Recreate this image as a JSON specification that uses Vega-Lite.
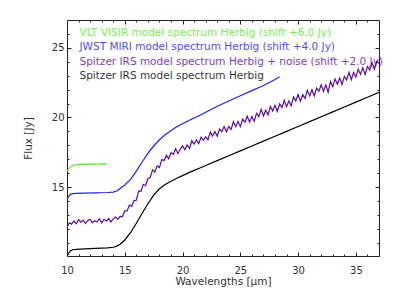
{
  "$schema": "https://vega.github.io/schema/vega-lite/v6.json",
  "autosize": {"type": "none"},
  "padding": {"left": 67, "top": 20, "right": 20, "bottom": 43},
  "width": 312,
  "height": 236,
  "config": {
    "view": {"stroke": "#222", "strokeWidth": 1},
    "axis": {"grid": false, "labelFont": "DejaVu Sans", "labelFontSize": 10, "labelColor": "#333", "titleFont": "DejaVu Sans", "titleFontSize": 10.5, "titleFontWeight": "normal", "titleColor": "#333", "tickColor": "#222", "tickWidth": 1, "labelFlush": false}
  },
  "datasets": {
    "spec": [
      {"s":"k","x":10.0,"y":10.05},{"s":"k","x":10.15,"y":10.25},{"s":"k","x":10.3,"y":10.43},{"s":"k","x":10.5,"y":10.5},{"s":"k","x":10.8,"y":10.53},{"s":"k","x":11.5,"y":10.56},{"s":"k","x":12.5,"y":10.6},{"s":"k","x":13.5,"y":10.64},{"s":"k","x":14.0,"y":10.68},{"s":"k","x":14.3,"y":10.76},{"s":"k","x":14.6,"y":10.9},{"s":"k","x":15.0,"y":11.2},{"s":"k","x":15.5,"y":11.72},{"s":"k","x":16.0,"y":12.4},{"s":"k","x":16.5,"y":13.12},{"s":"k","x":17.0,"y":13.8},{"s":"k","x":17.5,"y":14.42},{"s":"k","x":18.0,"y":14.88},{"s":"k","x":18.5,"y":15.18},{"s":"k","x":19.0,"y":15.42},{"s":"k","x":19.5,"y":15.63},{"s":"k","x":20.0,"y":15.82},{"s":"k","x":20.5,"y":16.02},{"s":"k","x":21.0,"y":16.2},{"s":"k","x":21.5,"y":16.37},{"s":"k","x":22.0,"y":16.55},{"s":"k","x":23.0,"y":16.9},{"s":"k","x":24.0,"y":17.25},{"s":"k","x":25.0,"y":17.6},{"s":"k","x":26.0,"y":17.95},{"s":"k","x":27.0,"y":18.3},{"s":"k","x":28.0,"y":18.65},{"s":"k","x":29.0,"y":19.0},{"s":"k","x":30.0,"y":19.35},{"s":"k","x":31.0,"y":19.7},{"s":"k","x":32.0,"y":20.05},{"s":"k","x":33.0,"y":20.4},{"s":"k","x":34.0,"y":20.75},{"s":"k","x":35.0,"y":21.1},{"s":"k","x":36.0,"y":21.45},{"s":"k","x":37.0,"y":21.8},
      {"s":"b","x":10.0,"y":14.12},{"s":"b","x":10.15,"y":14.33},{"s":"b","x":10.3,"y":14.48},{"s":"b","x":10.5,"y":14.53},{"s":"b","x":10.8,"y":14.55},{"s":"b","x":11.5,"y":14.57},{"s":"b","x":12.5,"y":14.59},{"s":"b","x":13.5,"y":14.61},{"s":"b","x":14.0,"y":14.64},{"s":"b","x":14.3,"y":14.72},{"s":"b","x":14.6,"y":14.9},{"s":"b","x":15.0,"y":15.15},{"s":"b","x":15.5,"y":15.55},{"s":"b","x":16.0,"y":16.15},{"s":"b","x":16.5,"y":16.8},{"s":"b","x":17.0,"y":17.42},{"s":"b","x":17.5,"y":17.95},{"s":"b","x":18.0,"y":18.4},{"s":"b","x":18.5,"y":18.76},{"s":"b","x":19.0,"y":19.06},{"s":"b","x":19.5,"y":19.33},{"s":"b","x":20.0,"y":19.55},{"s":"b","x":20.5,"y":19.76},{"s":"b","x":21.0,"y":19.96},{"s":"b","x":21.5,"y":20.16},{"s":"b","x":22.0,"y":20.38},{"s":"b","x":23.0,"y":20.8},{"s":"b","x":24.0,"y":21.18},{"s":"b","x":25.0,"y":21.56},{"s":"b","x":26.0,"y":21.93},{"s":"b","x":27.0,"y":22.3},{"s":"b","x":28.0,"y":22.73},{"s":"b","x":28.4,"y":22.92},
      {"s":"g","x":10.0,"y":16.12},{"s":"g","x":10.2,"y":16.36},{"s":"g","x":10.4,"y":16.52},{"s":"g","x":10.6,"y":16.58},{"s":"g","x":10.8,"y":16.62},{"s":"g","x":11.0,"y":16.6},{"s":"g","x":11.2,"y":16.65},{"s":"g","x":11.4,"y":16.61},{"s":"g","x":11.6,"y":16.66},{"s":"g","x":11.8,"y":16.62},{"s":"g","x":12.0,"y":16.67},{"s":"g","x":12.2,"y":16.63},{"s":"g","x":12.4,"y":16.68},{"s":"g","x":12.6,"y":16.64},{"s":"g","x":12.8,"y":16.69},{"s":"g","x":13.0,"y":16.65},{"s":"g","x":13.2,"y":16.68},{"s":"g","x":13.4,"y":16.66},
      {"s":"p","x":10.0,"y":12.12},{"s":"p","x":10.2,"y":12.44},{"s":"p","x":10.4,"y":12.34},{"s":"p","x":10.6,"y":12.57},{"s":"p","x":10.8,"y":12.37},{"s":"p","x":11.0,"y":12.67},{"s":"p","x":11.2,"y":12.48},{"s":"p","x":11.4,"y":12.63},{"s":"p","x":11.6,"y":12.38},{"s":"p","x":11.8,"y":12.61},{"s":"p","x":12.0,"y":12.69},{"s":"p","x":12.2,"y":12.44},{"s":"p","x":12.4,"y":12.59},{"s":"p","x":12.6,"y":12.49},{"s":"p","x":12.8,"y":12.74},{"s":"p","x":13.0,"y":12.44},{"s":"p","x":13.2,"y":12.69},{"s":"p","x":13.4,"y":12.57},{"s":"p","x":13.6,"y":12.74},{"s":"p","x":13.8,"y":12.5},{"s":"p","x":14.0,"y":12.72},{"s":"p","x":14.2,"y":12.85},{"s":"p","x":14.4,"y":12.68},{"s":"p","x":14.6,"y":12.9},{"s":"p","x":14.8,"y":12.88},{"s":"p","x":15.0,"y":13.29},{"s":"p","x":15.2,"y":13.29},{"s":"p","x":15.4,"y":13.71},{"s":"p","x":15.6,"y":13.62},{"s":"p","x":15.8,"y":14.03},{"s":"p","x":16.0,"y":14.06},{"s":"p","x":16.2,"y":14.72},{"s":"p","x":16.4,"y":14.7},{"s":"p","x":16.6,"y":15.2},{"s":"p","x":16.8,"y":15.1},{"s":"p","x":17.0,"y":15.6},{"s":"p","x":17.2,"y":15.68},{"s":"p","x":17.4,"y":16.24},{"s":"p","x":17.6,"y":16.07},{"s":"p","x":17.8,"y":16.52},{"s":"p","x":18.0,"y":16.4},{"s":"p","x":18.2,"y":16.98},{"s":"p","x":18.4,"y":16.9},{"s":"p","x":18.6,"y":17.28},{"s":"p","x":18.8,"y":17.04},{"s":"p","x":19.0,"y":17.47},{"s":"p","x":19.2,"y":17.35},{"s":"p","x":19.4,"y":17.75},{"s":"p","x":19.6,"y":17.4},{"s":"p","x":19.8,"y":17.73},{"s":"p","x":20.0,"y":17.96},{"s":"p","x":20.2,"y":17.68},{"s":"p","x":20.4,"y":18.02},{"s":"p","x":20.6,"y":17.78},{"s":"p","x":20.8,"y":18.33},{"s":"p","x":21.0,"y":18.08},{"s":"p","x":21.2,"y":18.38},{"s":"p","x":21.4,"y":18.12},{"s":"p","x":21.6,"y":18.58},{"s":"p","x":21.8,"y":18.36},{"s":"p","x":22.0,"y":18.61},{"s":"p","x":22.2,"y":18.4},{"s":"p","x":22.4,"y":18.95},{"s":"p","x":22.6,"y":18.66},{"s":"p","x":22.8,"y":18.98},{"s":"p","x":23.0,"y":18.65},{"s":"p","x":23.2,"y":19.17},{"s":"p","x":23.4,"y":18.98},{"s":"p","x":23.6,"y":19.35},{"s":"p","x":23.8,"y":18.98},{"s":"p","x":24.0,"y":19.35},{"s":"p","x":24.2,"y":19.14},{"s":"p","x":24.4,"y":19.69},{"s":"p","x":24.6,"y":19.34},{"s":"p","x":24.8,"y":19.71},{"s":"p","x":25.0,"y":19.34},{"s":"p","x":25.2,"y":19.89},{"s":"p","x":25.4,"y":19.66},{"s":"p","x":25.6,"y":20.09},{"s":"p","x":25.8,"y":19.66},{"s":"p","x":26.0,"y":20.07},{"s":"p","x":26.2,"y":19.72},{"s":"p","x":26.4,"y":20.29},{"s":"p","x":26.6,"y":20.06},{"s":"p","x":26.8,"y":20.58},{"s":"p","x":27.0,"y":20.1},{"s":"p","x":27.2,"y":20.52},{"s":"p","x":27.4,"y":20.19},{"s":"p","x":27.6,"y":20.79},{"s":"p","x":27.8,"y":20.46},{"s":"p","x":28.0,"y":20.87},{"s":"p","x":28.2,"y":20.44},{"s":"p","x":28.4,"y":20.97},{"s":"p","x":28.6,"y":20.71},{"s":"p","x":28.8,"y":21.23},{"s":"p","x":29.0,"y":20.78},{"s":"p","x":29.2,"y":21.19},{"s":"p","x":29.4,"y":20.84},{"s":"p","x":29.6,"y":21.46},{"s":"p","x":29.8,"y":21.18},{"s":"p","x":30.0,"y":21.65},{"s":"p","x":30.2,"y":21.17},{"s":"p","x":30.4,"y":21.64},{"s":"p","x":30.6,"y":21.36},{"s":"p","x":30.8,"y":21.95},{"s":"p","x":31.0,"y":21.55},{"s":"p","x":31.2,"y":21.99},{"s":"p","x":31.4,"y":21.54},{"s":"p","x":31.6,"y":22.11},{"s":"p","x":31.8,"y":21.88},{"s":"p","x":32.0,"y":22.35},{"s":"p","x":32.2,"y":21.87},{"s":"p","x":32.4,"y":22.34},{"s":"p","x":32.6,"y":21.81},{"s":"p","x":32.8,"y":22.58},{"s":"p","x":33.0,"y":22.2},{"s":"p","x":33.2,"y":22.77},{"s":"p","x":33.4,"y":22.39},{"s":"p","x":33.6,"y":22.83},{"s":"p","x":33.8,"y":22.38},{"s":"p","x":34.0,"y":22.93},{"s":"p","x":34.2,"y":22.7},{"s":"p","x":34.4,"y":23.24},{"s":"p","x":34.6,"y":22.71},{"s":"p","x":34.8,"y":23.23},{"s":"p","x":35.0,"y":22.9},{"s":"p","x":35.2,"y":23.47},{"s":"p","x":35.4,"y":23.09},{"s":"p","x":35.6,"y":23.56},{"s":"p","x":35.8,"y":23.08},{"s":"p","x":36.0,"y":23.65},{"s":"p","x":36.2,"y":23.42},{"s":"p","x":36.4,"y":23.94},{"s":"p","x":36.6,"y":23.46},{"s":"p","x":36.8,"y":24.03},{"s":"p","x":37.0,"y":23.9}
    ]
  },
  "data": {"name": "spec"},
  "resolve": {"axis": {"x": "independent", "y": "independent"}},
  "layer": [
    {
      "mark": {"type": "line", "strokeWidth": 1.2, "clip": true},
      "encoding": {
        "x": {"field": "x", "type": "quantitative", "scale": {"domain": [10, 37], "nice": false, "zero": false},
              "axis": {"orient": "bottom", "values": [10, 15, 20, 25, 30, 35], "ticks": false, "domain": false, "labelPadding": 9, "title": "Wavelengths [μm]", "titlePadding": 1}},
        "y": {"field": "y", "type": "quantitative", "scale": {"domain": [10.05, 27], "nice": false, "zero": false},
              "axis": {"orient": "left", "values": [15, 20, 25], "ticks": false, "domain": false, "labelPadding": 3, "title": "Flux [Jy]", "titlePadding": 18}},
        "color": {"field": "s", "type": "nominal",
                  "scale": {"domain": ["g", "b", "p", "k"], "range": ["#55ee22", "#2020ff", "#5a0ca6", "#000000"]},
                  "legend": {"orient": "top-left", "offset": 8, "padding": 0, "title": null, "symbolSize": 1, "symbolStrokeWidth": 0, "symbolOpacity": 0, "labelOffset": -6, "rowPadding": 3.2, "labelFont": "DejaVu Sans", "labelFontSize": 10.5, "labelLimit": 400,
                             "labelExpr": "datum.value == 'g' ? 'VLT VISIR model spectrum Herbig (shift +6.0 Jy)' : datum.value == 'b' ? 'JWST MIRI model spectrum Herbig (shift +4.0 Jy)' : datum.value == 'p' ? 'Spitzer IRS model spectrum Herbig + noise (shift +2.0 Jy)' : 'Spitzer IRS model spectrum Herbig'",
                             "encode": {"labels": {"update": {"fill": {"scale": "color", "field": "value"}, "opacity": {"value": 0.8}}}}}}
      }
    },
    {
      "mark": {"type": "line", "opacity": 0},
      "encoding": {
        "x": {"field": "x", "type": "quantitative", "scale": {"domain": [10, 37], "nice": false, "zero": false},
              "axis": {"orient": "bottom", "values": [15, 20, 25, 30, 35], "labels": false, "domain": false, "tickSize": -4, "title": null}},
        "y": {"field": "y", "type": "quantitative", "scale": {"domain": [10.05, 27], "nice": false, "zero": false},
              "axis": {"orient": "left", "values": [15, 20, 25], "labels": false, "domain": false, "tickSize": -4, "title": null}}
      }
    },
    {
      "mark": {"type": "line", "opacity": 0},
      "encoding": {
        "x": {"field": "x", "type": "quantitative", "scale": {"domain": [10, 37], "nice": false, "zero": false},
              "axis": {"orient": "top", "values": [15, 20, 25, 30, 35], "labels": false, "domain": false, "tickSize": -4, "title": null}},
        "y": {"field": "y", "type": "quantitative", "scale": {"domain": [10.05, 27], "nice": false, "zero": false},
              "axis": {"orient": "right", "values": [15, 20, 25], "labels": false, "domain": false, "tickSize": -4, "title": null}}
      }
    },
    {
      "mark": {"type": "line", "opacity": 0},
      "encoding": {
        "x": {"field": "x", "type": "quantitative", "scale": {"domain": [10, 37], "nice": false, "zero": false},
              "axis": {"orient": "bottom", "values": [11, 12, 13, 14, 16, 17, 18, 19, 21, 22, 23, 24, 26, 27, 28, 29, 31, 32, 33, 34, 36], "labels": false, "domain": false, "tickSize": -2, "title": null}},
        "y": {"field": "y", "type": "quantitative", "scale": {"domain": [10.05, 27], "nice": false, "zero": false},
              "axis": {"orient": "left", "values": [11, 12, 13, 14, 16, 17, 18, 19, 21, 22, 23, 24, 26], "labels": false, "domain": false, "tickSize": -2, "title": null}}
      }
    },
    {
      "mark": {"type": "line", "opacity": 0},
      "encoding": {
        "x": {"field": "x", "type": "quantitative", "scale": {"domain": [10, 37], "nice": false, "zero": false},
              "axis": {"orient": "top", "values": [11, 12, 13, 14, 16, 17, 18, 19, 21, 22, 23, 24, 26, 27, 28, 29, 31, 32, 33, 34, 36], "labels": false, "domain": false, "tickSize": -2, "title": null}},
        "y": {"field": "y", "type": "quantitative", "scale": {"domain": [10.05, 27], "nice": false, "zero": false},
              "axis": {"orient": "right", "values": [11, 12, 13, 14, 16, 17, 18, 19, 21, 22, 23, 24, 26], "labels": false, "domain": false, "tickSize": -2, "title": null}}
      }
    }
  ]
}
